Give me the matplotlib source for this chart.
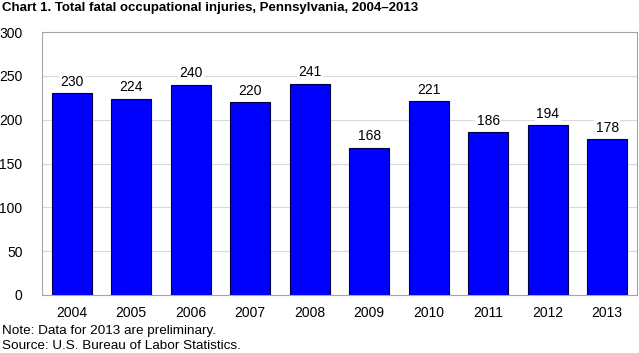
import matplotlib.pyplot as plt

years = ["2004", "2005", "2006", "2007", "2008", "2009", "2010", "2011", "2012", "2013"]
injuries = [230, 224, 240, 220, 241, 168, 221, 186, 194, 178]

plt.rcParams['font.family'] = ['Liberation Sans', 'DejaVu Sans']

fig = plt.figure(figsize=(6.39, 3.53), dpi=100)
ax = fig.add_axes([42/639, 1 - 295/353, 595/639, 263/353])

x = list(range(len(years)))
ax.bar(x, injuries, width=0.67, color='#0000FF', edgecolor='#000040', linewidth=0.8, zorder=3)
for xi, v in zip(x, injuries):
    ax.text(xi, v + 5, str(v), ha='center', va='bottom', fontsize=10, zorder=4,
            bbox=dict(facecolor='white', edgecolor='none', pad=1))

ax.set_xlim(-0.5, len(years) - 0.5)
ax.set_ylim(0, 300)
ax.set_yticks(range(0, 301, 50))
ax.set_xticks(x)
ax.set_xticklabels(years)
ax.tick_params(axis='both', length=0, labelsize=10)
ax.tick_params(axis='x', pad=8)
ax.tick_params(axis='y', pad=14)
ax.grid(axis='y', color='#d9d9d9', linewidth=0.8, zorder=0)
for s in ax.spines.values():
    s.set_color('#a6a6a6')
    s.set_linewidth(0.8)

fig.text(2/639, 1 - 8/353, "Chart 1. Total fatal occupational injuries, Pennsylvania, 2004\u20132013",
         fontsize=9.5, fontweight='bold', va='center', ha='left')
fig.text(2/639, 1 - 331/353, "Note: Data for 2013 are preliminary.", fontsize=9.7, va='center', ha='left')
fig.text(2/639, 1 - 346/353, "Source: U.S. Bureau of Labor Statistics.", fontsize=9.7, va='center', ha='left')

fig.savefig('out.png', dpi=100)
